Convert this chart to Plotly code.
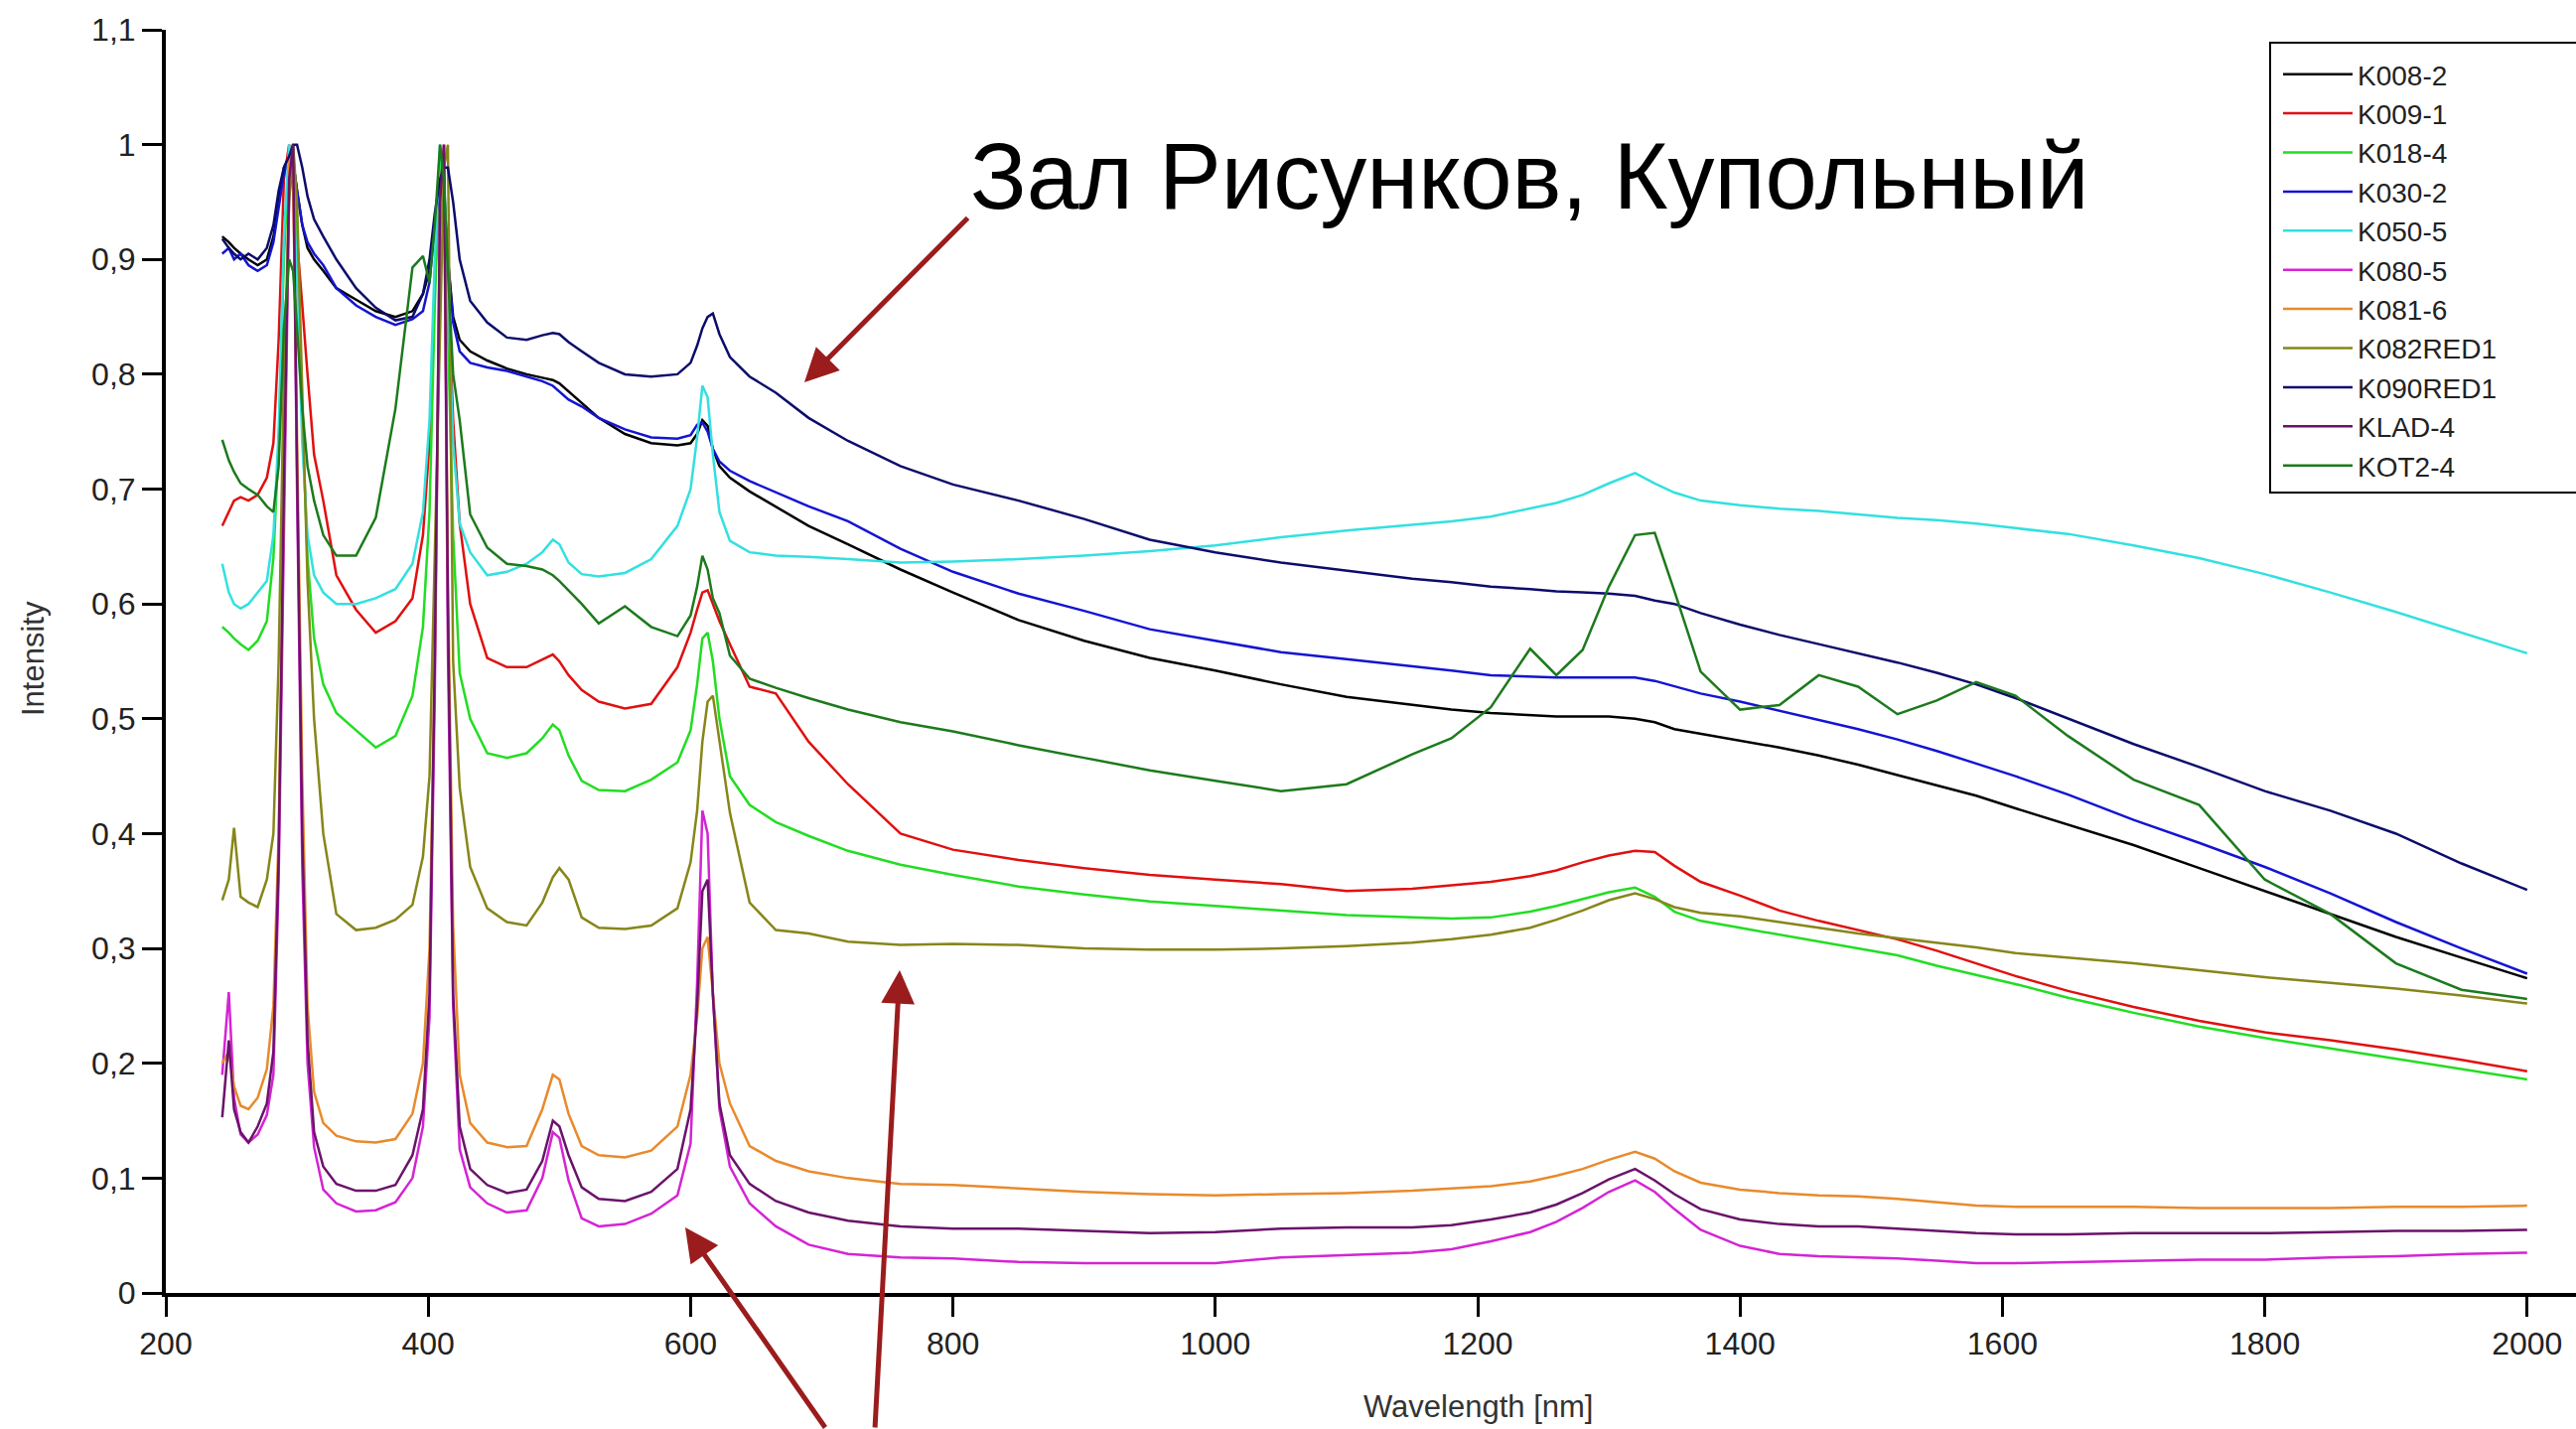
import plotly.graph_objects as go

# ---------------- data ----------------
wavelength = [243, 248, 252, 257, 263, 270, 277, 282, 286, 290, 294, 297, 300, 304, 308, 313, 320, 330, 345, 360,
              375, 388, 396, 401, 405, 409, 412, 415, 419, 424, 432, 445, 460, 475, 487, 495, 500, 507, 517, 530,
              550, 570, 590, 600, 605, 609, 613, 617, 622, 630, 645, 665, 690, 720, 760, 800, 850, 900, 950, 1000,
              1050, 1100, 1150, 1180, 1210, 1240, 1260, 1280, 1300, 1320, 1335, 1350, 1370, 1400, 1430, 1460, 1490,
              1520, 1550, 1580, 1610, 1650, 1700, 1750, 1800, 1850, 1900, 1950, 2000]

series_names = ["K008-2", "K009-1", "K018-4", "K030-2", "K050-5", "K080-5",
                "K081-6", "K082RED1", "K090RED1", "KLAD-4", "KOT2-4"]

k008_2 = [0.920, 0.915, 0.910, 0.905, 0.900, 0.895, 0.900, 0.920, 0.950, 0.980, 0.990, 0.985, 0.960, 0.930, 0.910,
          0.900, 0.890, 0.875, 0.865, 0.855, 0.850, 0.855, 0.870, 0.890, 0.930, 0.970, 0.960, 0.900, 0.850, 0.830,
          0.820, 0.812, 0.805, 0.800, 0.797, 0.795, 0.792, 0.785, 0.775, 0.762, 0.748, 0.740, 0.738, 0.740, 0.748,
          0.760, 0.755, 0.735, 0.720, 0.710, 0.698, 0.685, 0.668, 0.652, 0.630, 0.610, 0.586, 0.568, 0.553, 0.542,
          0.530, 0.519, 0.512, 0.508, 0.505, 0.503, 0.502, 0.502, 0.502, 0.500, 0.497, 0.491, 0.487, 0.481, 0.475,
          0.468, 0.460, 0.451, 0.442, 0.433, 0.422, 0.408, 0.390, 0.370, 0.350, 0.330, 0.310, 0.292, 0.274]

k009_1 = [0.668, 0.680, 0.690, 0.693, 0.690, 0.695, 0.710, 0.740, 0.830, 0.970, 1.000, 0.960, 0.920, 0.860, 0.800,
          0.730, 0.690, 0.625, 0.595, 0.575, 0.585, 0.605, 0.660, 0.740, 0.880, 0.980, 0.970, 0.880, 0.760, 0.670,
          0.600, 0.553, 0.545, 0.545, 0.552, 0.556, 0.550, 0.538, 0.525, 0.515, 0.509, 0.513, 0.545, 0.575, 0.595,
          0.610, 0.612, 0.600, 0.585, 0.565, 0.528, 0.522, 0.480, 0.443, 0.400, 0.386, 0.377, 0.370, 0.364, 0.360,
          0.356, 0.350, 0.352, 0.355, 0.358, 0.363, 0.368, 0.375, 0.381, 0.385, 0.384, 0.372, 0.358, 0.346, 0.333,
          0.324, 0.316, 0.308, 0.298, 0.287, 0.276, 0.263, 0.249, 0.237, 0.227, 0.220, 0.212, 0.203, 0.193]

k018_4 = [0.580, 0.575, 0.570, 0.565, 0.560, 0.568, 0.585, 0.640, 0.740, 0.900, 0.990, 1.000, 0.930, 0.760, 0.640,
          0.570, 0.530, 0.505, 0.490, 0.475, 0.485, 0.520, 0.580, 0.680, 0.860, 0.990, 0.970, 0.840, 0.660, 0.540,
          0.500, 0.470, 0.466, 0.470, 0.483, 0.495, 0.490, 0.468, 0.446, 0.438, 0.437, 0.447, 0.462, 0.490, 0.530,
          0.570, 0.575, 0.550, 0.500, 0.450, 0.425, 0.410, 0.398, 0.385, 0.373, 0.364, 0.354, 0.347, 0.341, 0.337,
          0.333, 0.329, 0.327, 0.326, 0.327, 0.332, 0.337, 0.343, 0.349, 0.353, 0.345, 0.332, 0.324, 0.318, 0.312,
          0.306, 0.300, 0.294, 0.285, 0.277, 0.269, 0.257, 0.244, 0.232, 0.222, 0.213, 0.204, 0.195, 0.186]

k030_2 = [0.905, 0.910, 0.900, 0.905, 0.895, 0.890, 0.895, 0.915, 0.945, 0.975, 0.990, 0.985, 0.960, 0.930, 0.915,
          0.905, 0.895, 0.875, 0.860, 0.850, 0.843, 0.848, 0.855, 0.880, 0.930, 0.960, 0.950, 0.900, 0.845, 0.820,
          0.810, 0.806, 0.803, 0.798, 0.794, 0.790, 0.785, 0.778, 0.772, 0.762, 0.752, 0.745, 0.744, 0.747, 0.756,
          0.758, 0.750, 0.735, 0.724, 0.716, 0.707, 0.697, 0.685, 0.672, 0.648, 0.628, 0.609, 0.594, 0.578, 0.568,
          0.558, 0.552, 0.546, 0.542, 0.538, 0.537, 0.536, 0.536, 0.536, 0.536, 0.533, 0.528, 0.522, 0.515, 0.507,
          0.499, 0.491, 0.482, 0.472, 0.461, 0.450, 0.434, 0.412, 0.392, 0.371, 0.348, 0.323, 0.300, 0.278]

k050_5 = [0.635, 0.610, 0.600, 0.596, 0.600, 0.610, 0.620, 0.660, 0.750, 0.920, 1.000, 0.970, 0.880, 0.740, 0.660,
          0.625, 0.610, 0.600, 0.600, 0.605, 0.613, 0.635, 0.680, 0.760, 0.900, 1.000, 0.980, 0.870, 0.740, 0.670,
          0.645, 0.625, 0.628, 0.635, 0.645, 0.656, 0.652, 0.636, 0.626, 0.624, 0.627, 0.639, 0.668, 0.700, 0.745,
          0.790, 0.780, 0.730, 0.680, 0.655, 0.645, 0.642, 0.641, 0.639, 0.636, 0.637, 0.639, 0.642, 0.646, 0.651,
          0.658, 0.664, 0.669, 0.672, 0.676, 0.683, 0.688, 0.695, 0.705, 0.714, 0.705, 0.697, 0.690, 0.686, 0.683,
          0.681, 0.678, 0.675, 0.673, 0.670, 0.666, 0.661, 0.651, 0.640, 0.626, 0.610, 0.593, 0.575, 0.557]

k080_5 = [0.190, 0.262, 0.170, 0.138, 0.131, 0.138, 0.155, 0.190, 0.360, 0.680, 0.960, 1.000, 0.700, 0.370, 0.200,
          0.127, 0.090, 0.078, 0.071, 0.072, 0.079, 0.100, 0.145, 0.240, 0.520, 0.950, 1.000, 0.560, 0.250, 0.125,
          0.092, 0.078, 0.070, 0.072, 0.100, 0.140, 0.135, 0.098, 0.065, 0.058, 0.060, 0.069, 0.085, 0.130, 0.270,
          0.420, 0.400, 0.260, 0.160, 0.110, 0.078, 0.058, 0.042, 0.034, 0.031, 0.030, 0.027, 0.026, 0.026, 0.026,
          0.031, 0.033, 0.035, 0.038, 0.045, 0.053, 0.062, 0.074, 0.088, 0.098, 0.088, 0.073, 0.055, 0.041, 0.034,
          0.032, 0.031, 0.030, 0.028, 0.026, 0.026, 0.027, 0.028, 0.029, 0.029, 0.031, 0.032, 0.034, 0.035]

k081_6 = [0.200, 0.210, 0.180, 0.163, 0.160, 0.170, 0.195, 0.250, 0.400, 0.700, 0.990, 0.970, 0.750, 0.450, 0.250,
          0.175, 0.148, 0.137, 0.132, 0.131, 0.134, 0.156, 0.200, 0.300, 0.550, 0.920, 1.000, 0.620, 0.320, 0.190,
          0.148, 0.131, 0.127, 0.128, 0.160, 0.190, 0.186, 0.156, 0.128, 0.120, 0.118, 0.124, 0.145, 0.190, 0.240,
          0.300, 0.310, 0.260, 0.200, 0.165, 0.128, 0.115, 0.106, 0.100, 0.095, 0.094, 0.091, 0.088, 0.086, 0.085,
          0.086, 0.087, 0.089, 0.091, 0.093, 0.097, 0.102, 0.108, 0.116, 0.123, 0.117, 0.106, 0.096, 0.090, 0.087,
          0.085, 0.084, 0.082, 0.079, 0.076, 0.075, 0.075, 0.075, 0.074, 0.074, 0.074, 0.075, 0.075, 0.076]

k082red1 = [0.342, 0.360, 0.405, 0.345, 0.340, 0.336, 0.360, 0.400, 0.550, 0.800, 0.950, 1.000, 0.950, 0.780, 0.620,
            0.500, 0.400, 0.330, 0.316, 0.318, 0.325, 0.338, 0.380, 0.450, 0.650, 0.850, 0.980, 1.000, 0.550, 0.440,
            0.371, 0.335, 0.323, 0.320, 0.340, 0.362, 0.370, 0.360, 0.327, 0.318, 0.317, 0.320, 0.335, 0.375, 0.420,
            0.480, 0.515, 0.520, 0.480, 0.418, 0.340, 0.316, 0.313, 0.306, 0.303, 0.304, 0.303, 0.300, 0.299, 0.299,
            0.300, 0.302, 0.305, 0.308, 0.312, 0.318, 0.325, 0.333, 0.342, 0.348, 0.343, 0.336, 0.331, 0.328, 0.323,
            0.318, 0.313, 0.309, 0.305, 0.301, 0.296, 0.292, 0.287, 0.281, 0.275, 0.270, 0.265, 0.259, 0.252]

k090red1 = [0.918, 0.910, 0.905, 0.900, 0.905, 0.900, 0.910, 0.930, 0.960, 0.980, 0.990, 1.000, 1.000, 0.980, 0.955,
            0.935, 0.920, 0.900, 0.875, 0.858, 0.847, 0.850, 0.870, 0.900, 0.940, 0.970, 0.980, 0.980, 0.950, 0.900,
            0.864, 0.845, 0.832, 0.830, 0.834, 0.836, 0.835, 0.828, 0.820, 0.810, 0.800, 0.798, 0.800, 0.810, 0.825,
            0.840, 0.850, 0.853, 0.835, 0.815, 0.798, 0.784, 0.762, 0.742, 0.720, 0.704, 0.690, 0.674, 0.656, 0.645,
            0.636, 0.629, 0.622, 0.619, 0.615, 0.613, 0.611, 0.610, 0.609, 0.607, 0.603, 0.600, 0.592, 0.582, 0.573,
            0.565, 0.557, 0.549, 0.540, 0.530, 0.518, 0.500, 0.478, 0.458, 0.437, 0.420, 0.400, 0.374, 0.351]

klad_4 = [0.153, 0.220, 0.160, 0.140, 0.131, 0.145, 0.165, 0.210, 0.380, 0.700, 0.970, 1.000, 0.720, 0.400, 0.220,
          0.140, 0.110, 0.095, 0.089, 0.089, 0.094, 0.120, 0.160, 0.260, 0.550, 0.950, 1.000, 0.600, 0.260, 0.145,
          0.108, 0.094, 0.087, 0.090, 0.115, 0.150, 0.145, 0.120, 0.092, 0.082, 0.080, 0.088, 0.108, 0.160, 0.250,
          0.350, 0.360, 0.260, 0.165, 0.120, 0.095, 0.080, 0.070, 0.063, 0.058, 0.056, 0.056, 0.054, 0.052, 0.053,
          0.056, 0.057, 0.057, 0.059, 0.064, 0.070, 0.077, 0.087, 0.099, 0.108, 0.098, 0.086, 0.073, 0.064, 0.060,
          0.058, 0.058, 0.056, 0.054, 0.052, 0.051, 0.051, 0.052, 0.052, 0.052, 0.053, 0.054, 0.054, 0.055]

kot2_4 = [0.743, 0.725, 0.715, 0.705, 0.700, 0.695, 0.685, 0.680, 0.720, 0.840, 0.900, 0.890, 0.840, 0.770, 0.720,
          0.690, 0.660, 0.642, 0.642, 0.675, 0.770, 0.893, 0.903, 0.880, 0.930, 1.000, 0.970, 0.890, 0.800, 0.760,
          0.678, 0.649, 0.635, 0.633, 0.630, 0.625, 0.620, 0.612, 0.600, 0.583, 0.598, 0.580, 0.572, 0.590, 0.615,
          0.642, 0.630, 0.605, 0.592, 0.555, 0.535, 0.527, 0.518, 0.508, 0.497, 0.489, 0.477, 0.466, 0.455, 0.446,
          0.437, 0.443, 0.469, 0.483, 0.510, 0.561, 0.538, 0.560, 0.615, 0.660, 0.662, 0.611, 0.541, 0.508, 0.512,
          0.538, 0.528, 0.504, 0.516, 0.532, 0.520, 0.485, 0.447, 0.425, 0.360, 0.330, 0.287, 0.264, 0.256]

series_values = [k008_2, k009_1, k018_4, k030_2, k050_5, k080_5, k081_6, k082red1, k090red1, klad_4, kot2_4]

series_colors = ["#000000", "#e01010", "#22dd22", "#1414d2", "#33e0e0", "#d424d4",
                 "#e88a2c", "#86861a", "#0c0c6c", "#6a136a", "#1c7a1c"]

x_ticks = [200, 400, 600, 800, 1000, 1200, 1400, 1600, 1800, 2000]

title_text = "Зал Рисунков, Купольный"
x_title = "Wavelength [nm]"
y_title = "Intensity"

# ---------------- figure ----------------
W, H = 2594, 1439
ML, MR, MT, MB = 167, 0, 30, 137
PW, PH = W - ML - MR, H - MT - MB


def px(xpix):
    return (xpix - ML) / PW


def py(ypix):
    return (H - MB - ypix) / PH


FONT = "Liberation Sans, Arial, Helvetica, sans-serif"

fig = go.Figure()
for name, vals, col in zip(series_names, series_values, series_colors):
    fig.add_trace(go.Scatter(x=wavelength, y=vals, mode="lines", name=name,
                             line=dict(color=col, width=2.5)))

axis_common = dict(showline=True, linewidth=4, linecolor="#000000", ticks="outside",
                   ticklen=20, tickwidth=3, tickcolor="#000000", showgrid=False, zeroline=False,
                   tickfont=dict(family=FONT, size=32, color="#222222"))

fig.update_xaxes(range=[200, 200 + PW / 1.321], tickvals=x_ticks, **axis_common)
fig.update_yaxes(range=[0, 1.1], dtick=0.1, tick0=0, **axis_common)

arrow_col = "#9b1c1c"
annotations = [
    dict(text=title_text, xref="paper", yref="paper", x=px(975), y=py(178),
         xanchor="left", yanchor="middle", showarrow=False,
         font=dict(family=FONT, size=94, color="#000000")),
    dict(text=x_title, xref="paper", yref="paper", x=px(1488), y=py(1416),
         xanchor="center", yanchor="middle", showarrow=False,
         font=dict(family=FONT, size=31, color="#333333")),
    dict(text=y_title, xref="paper", yref="paper", x=px(33), y=py(663), textangle=-90,
         xanchor="center", yanchor="middle", showarrow=False,
         font=dict(family=FONT, size=31, color="#333333")),
    dict(text="", xref="paper", yref="paper", x=px(810), y=py(385), ax=166, ay=-167,
         showarrow=True, arrowhead=2, arrowsize=1.35, arrowwidth=5, arrowcolor=arrow_col),
    dict(text="", xref="paper", yref="paper", x=px(690), y=py(1236), ax=142, ay=212,
         showarrow=True, arrowhead=2, arrowsize=1.35, arrowwidth=5, arrowcolor=arrow_col),
    dict(text="", xref="paper", yref="paper", x=px(906), y=py(977), ax=-25, ay=475,
         showarrow=True, arrowhead=2, arrowsize=1.35, arrowwidth=5, arrowcolor=arrow_col),
]

# frame of the legend (runs off the right edge, as in the reference)
legend_frame = dict(type="rect", xref="paper", yref="paper", layer="above",
                    x0=px(2286), x1=px(2620), y0=py(496), y1=py(43),
                    line=dict(color="#000000", width=2), fillcolor="#ffffff")

fig.update_layout(
    width=W, height=H,
    margin=dict(l=ML, r=MR, t=MT, b=MB, pad=0),
    paper_bgcolor="#ffffff", plot_bgcolor="#ffffff",
    separators=", ",
    font=dict(family=FONT, size=30, color="#222222"),
    showlegend=True,
    legend=dict(x=px(2294), y=py(50), xanchor="left", yanchor="top",
                bgcolor="rgba(0,0,0,0)", borderwidth=0,
                font=dict(family=FONT, size=28, color="#222222"),
                itemwidth=70, tracegroupgap=0),
    shapes=[legend_frame],
    annotations=annotations,
)

fig.write_html("out.html", config={"displayModeBar": False},
               post_script="document.body.style.margin='0';")
